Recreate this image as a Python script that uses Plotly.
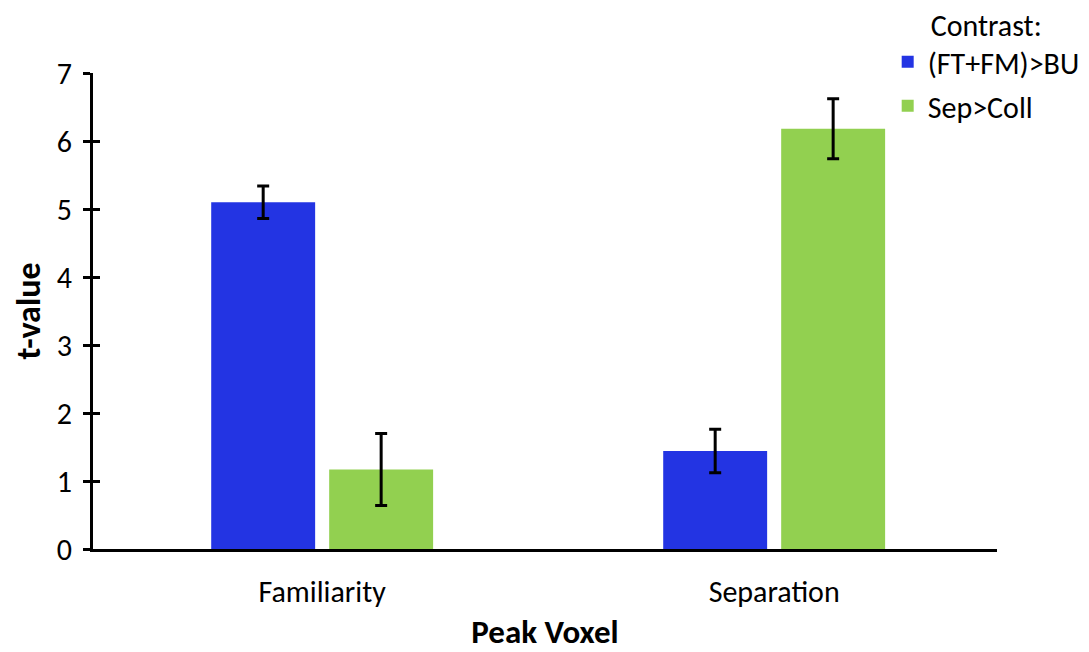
import plotly.graph_objects as go

# Peak voxel t-values per contrast, with symmetric error bars
categories = ["Familiarity", "Separation"]
ft_fm_bu = [5.10, 1.44]
ft_fm_bu_err = [0.24, 0.32]
sep_coll = [1.17, 6.18]
sep_coll_err = [0.53, 0.44]
y_ticks = [0, 1, 2, 3, 4, 5, 6, 7]

BLUE = "#2334E3"
GREEN = "#92D050"
FONT = "Carlito, Lato, 'Open Sans', sans-serif"

fig = go.Figure()
fig.add_trace(go.Bar(
    x=categories, y=ft_fm_bu, name="(FT+FM)>BU",
    marker=dict(color=BLUE, line=dict(width=0)),
    error_y=dict(type="data", array=ft_fm_bu_err, color="black", thickness=3, width=6),
    legendgroup="a",
))
fig.add_trace(go.Bar(
    x=categories, y=sep_coll, name="Sep>Coll",
    marker=dict(color=GREEN, line=dict(width=0)),
    error_y=dict(type="data", array=sep_coll_err, color="black", thickness=3, width=6),
    legendgroup="b",
))
# invisible helper trace on the overlay axis so its inner ticks are drawn
fig.add_trace(go.Scatter(x=categories, y=[None, None], yaxis="y2", showlegend=False,
                         hoverinfo="skip"))

fig.update_layout(
    width=1089, height=652,
    margin=dict(l=93, r=92, t=73, b=103, autoexpand=False),
    paper_bgcolor="white", plot_bgcolor="white",
    barmode="group", bargap=0.478, bargroupgap=0.119,
    font=dict(family=FONT, size=30, color="black"),
    xaxis=dict(
        range=[-0.507, 1.493],
        showline=True, linecolor="black", linewidth=3, ticks="",
        showgrid=False, zeroline=False,
        tickfont=dict(size=30), ticklabelstandoff=14,
        title=dict(text="<b>Peak Voxel</b>", font=dict(size=33), standoff=28),
    ),
    yaxis=dict(
        range=[0, 7], tickvals=y_ticks, showline=True, linecolor="black", linewidth=3,
        ticks="outside", ticklen=7, tickwidth=3, tickcolor="black",
        showgrid=False, zeroline=False, tickfont=dict(size=30), ticklabelstandoff=5,
        title=dict(text="<b>t-value</b>", font=dict(size=34), standoff=6),
    ),
    yaxis2=dict(
        range=[0, 7], tickvals=y_ticks, overlaying="y", side="left",
        ticks="inside", ticklen=7, tickwidth=3, tickcolor="black",
        showticklabels=False, showgrid=False, zeroline=False, showline=False,
    ),
    legend=dict(
        x=1.097, xanchor="right", y=1.16, yanchor="top",
        font=dict(size=30), traceorder="grouped", tracegroupgap=2,
        title=dict(text="Contrast:", side="top center", font=dict(size=30)),
        itemsizing="constant", bgcolor="rgba(0,0,0,0)",
    ),
    showlegend=True,
)

fig.write_html("out.html")
